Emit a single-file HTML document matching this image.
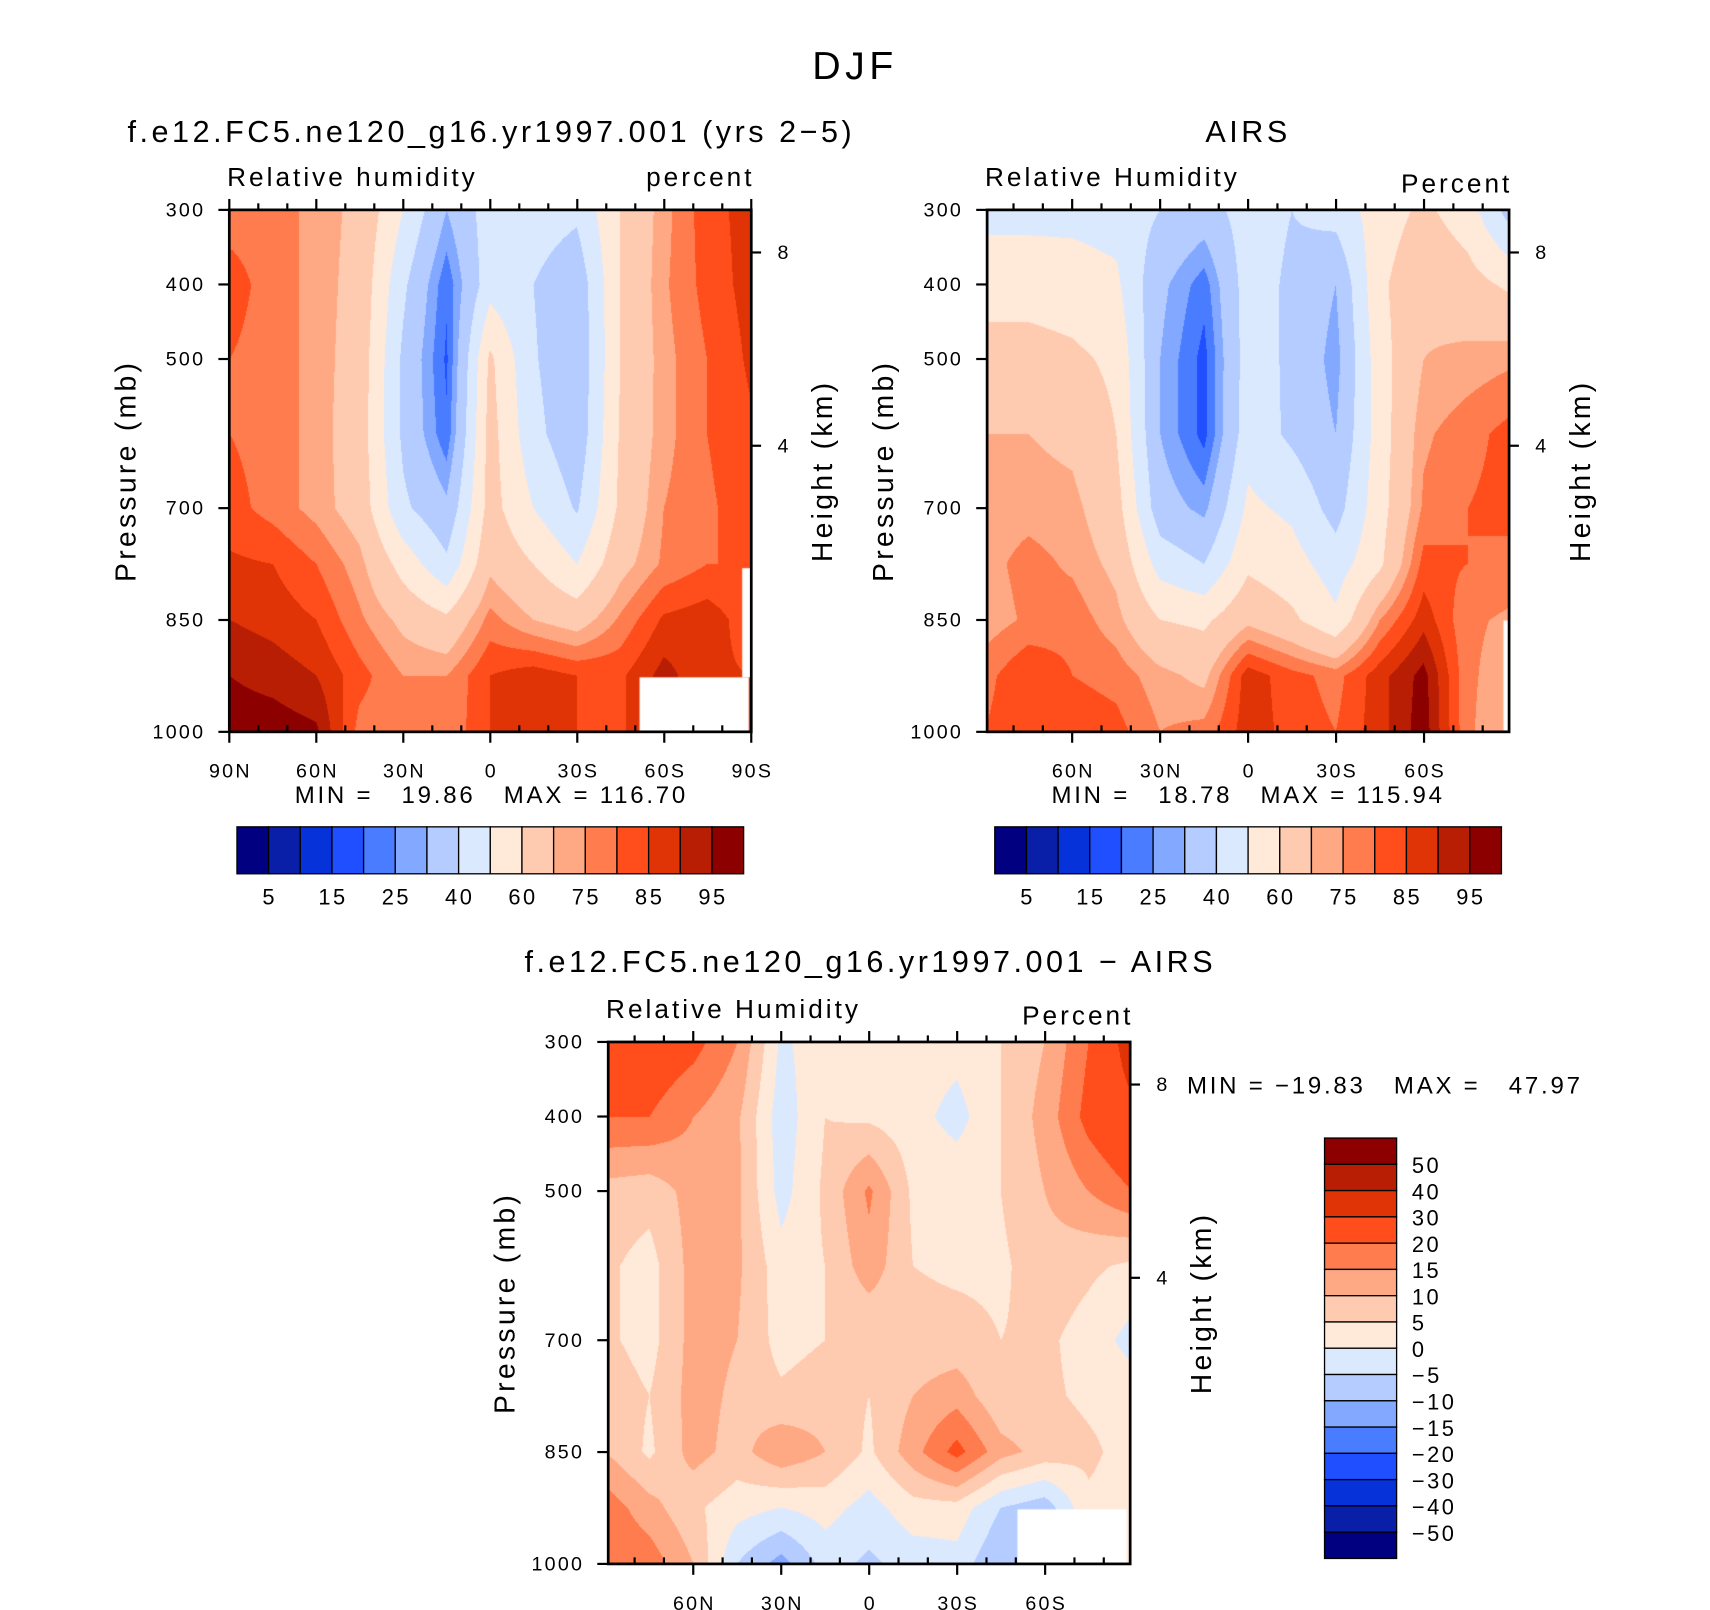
<!DOCTYPE html>
<html><head><meta charset="utf-8">
<style>
html,body{margin:0;padding:0;background:#fff;}
#wrap{position:relative;width:1710px;height:1610px;overflow:hidden;background:#fff;}
canvas{position:absolute;}
svg{position:absolute;left:0;top:0;}
text{font-family:"Liberation Sans",sans-serif;fill:#000;white-space:pre;letter-spacing:0.115em;}
</style></head>
<body>
<div id="wrap">
<canvas id="c1"></canvas>
<canvas id="c2"></canvas>
<canvas id="c3"></canvas>
<svg id="svg" width="1710" height="1610" viewBox="0 0 1566 1474"></svg>
</div>
<script>
// ---- data ----
const pressures = [300,400,500,600,700,775,850,925,1000];
const lats = [90,75,60,45,30,15,0,-15,-30,-45,-60,-75,-90];
const modelRH = [
 [78,78,73,68,50,30,45,45,42,60,73,83,87],
 [82,78,73,67,42,21,46,40,33,60,74,82,87],
 [80,78,73,66,38,19,62,41,32,60,73,80,86],
 [80,78,73,65,38,21,64,43,33,61,73,80,84],
 [82,78,73,66,42,32,64,50,39,62,75,79,83],
 [86,85,80,72,56,42,68,60,50,67,76,80,80],
 [90,88,85,76,68,62,77,70,66,76,86,88,82],
 [95,93,90,82,75,75,85,88,85,84,92,86,85],
 [98,98,96,78,77,76,85,86,85,85,85,85,85]];
const airsRH = [
 [47,47,47,46,40,35,45,40,44,55,62,55,35],
 [56,56,55,52,32,22,45,38,30,58,68,64,58],
 [64,64,62,58,30,18,45,38,27,56,70,72,74],
 [70,70,68,60,30,18,46,38,30,55,74,78,82],
 [72,73,72,64,34,28,52,48,36,56,76,80,82],
 [73,77,74,68,46,40,58,54,45,58,82,80,78],
 [72,76,78,72,60,58,68,62,52,75,88,76,74],
 [78,85,80,78,72,68,88,82,78,88,97,76,72],
 [80,85,84,82,75,77,88,83,80,88,98,76,70]];
const diffRH = [
 [25,25,22,15,-1,3,3,3,2,5,10,20,35],
 [20,20,15,11,-3,5,4,2,-2,5,12,22,28],
 [8,7,12,11,-2,6,16,4,4,5,10,15,20],
 [6,3,12,11,2,5,13,5,4,4,8,6,4],
 [6,3,12,10,3,5,5,7,7,5,6,3,-2],
 [8,5,12,9,6,8,5,10,13,6,6,4,3],
 [10,4,12,8,14,10,4,13,22,12,8,6,3],
 [18,12,6,2,0,2,-2,3,3,-5,-8,4,3],
 [20,18,10,-5,-12,-3,-6,-3,-2,-10,-10,4,3]];
const rhLevels = [5,10,15,20,25,30,40,50,60,70,75,80,85,90,95];
const rhLabels = ["5","15","25","40","60","75","85","95"];
const diffLevels = [-50,-40,-30,-20,-15,-10,-5,0,5,10,15,20,30,40,50];
const diffLabels = ["50","40","30","20","15","10","5","0","\u22125","\u221210","\u221215","\u221220","\u221230","\u221240","\u221250"];
const pTicks = [300,400,500,700,850,1000];
const latTicks = [90,60,30,0,-30,-60,-90];
const colors = ["#000080","#0a1fa8","#0533d9","#1f4fff","#4a7cff","#82a8ff","#b4ccff","#dbe9ff",
 "#ffe9d9","#ffcbb0","#ffa984","#ff7c4e","#ff4e1c","#e03406","#b81e04","#8c0000"];

const K = 1710/1566;
const NS = "http://www.w3.org/2000/svg";
const svg = document.getElementById('svg');
function mk(tag, attrs, parent){
  const e = document.createElementNS(NS, tag);
  for (const k in attrs) e.setAttribute(k, attrs[k]);
  (parent||svg).appendChild(e); return e;
}
function txt(x,y,s,size,anchor,rot){
  const a = {x:x,y:y,'font-size':size,'text-anchor':anchor||'middle'};
  if (rot) a.transform = 'rotate('+rot+' '+x+' '+y+')';
  const t = mk('text', a); t.textContent = s; return t;
}
function hex(c){return [parseInt(c.slice(1,3),16),parseInt(c.slice(3,5),16),parseInt(c.slice(5,7),16)];}
const rgb = colors.map(hex);
function levIdx(v, lev){let i=0; while(i<lev.length && v>=lev[i]) i++; return i;}

function drawField(id, P, data, lev){
  const cv = document.getElementById(id);
  const W = Math.round(P.w*K), H = Math.round(P.h*K);
  cv.width = W; cv.height = H;
  cv.style.left = Math.round(P.x*K)+'px'; cv.style.top = Math.round(P.y*K)+'px';
  const ctx = cv.getContext('2d');
  const img = ctx.createImageData(W,H);
  const nc = lats.length;
  for (let j=0;j<H;j++){
    const p = 300 + (j/(H-1))*700;
    let r=0; while(r<pressures.length-2 && p>pressures[r+1]) r++;
    const fy = (p-pressures[r])/(pressures[r+1]-pressures[r]);
    for (let i=0;i<W;i++){
      const lat = P.lat0 + (P.lat1-P.lat0)*i/(W-1);
      let cf = (90-lat)/180*(nc-1);
      let c = Math.min(nc-2, Math.floor(cf)); const fx = cf-c;
      const v = (1-fy)*((1-fx)*data[r][c]+fx*data[r][c+1]) + fy*((1-fx)*data[r+1][c]+fx*data[r+1][c+1]);
      const col = rgb[levIdx(v, lev)];
      const o = (j*W+i)*4;
      img.data[o]=col[0]; img.data[o+1]=col[1]; img.data[o+2]=col[2]; img.data[o+3]=255;
    }
  }
  ctx.putImageData(img,0,0);
  ctx.fillStyle = '#fff';
  (P.masks||[]).forEach(m=>ctx.fillRect((m[0]-P.x)*K,(m[1]-P.y)*K,m[2]*K,m[3]*K));
}

function yOfP(P,p){return P.y + (p-300)/700*P.h;}
function xOfLat(P,lat){return P.x + (P.lat0-lat)/(P.lat0-P.lat1)*P.w;}

function drawAxes(P){
  const g = mk('g',{});
  
  
  mk('rect',{x:P.x,y:P.y,width:P.w,height:P.h,fill:'none',stroke:'#000','stroke-width':2.5},g);
  pTicks.forEach(p=>{
    const y = yOfP(P,p);
    mk('line',{x1:P.x-10,y1:y,x2:P.x,y2:y,stroke:'#000','stroke-width':2},g);
    const t = txt(P.x-22,y+6,String(p),18,'end');
    
    
  });
  for (let lat=90; lat>=-90; lat-=10){
    if (lat>P.lat0+0.5 || lat<P.lat1-0.5) continue;
    const x = xOfLat(P,lat);
    const major = lat%30===0;
    mk('line',{x1:x,y1:P.y+P.h,x2:x,y2:P.y+P.h+(major?10:-6),stroke:'#000','stroke-width':2},g);
    mk('line',{x1:x,y1:P.y,x2:x,y2:P.y-(major?10:6),stroke:'#000','stroke-width':2},g);
  }
  latTicks.forEach(lat=>{
    if (lat>P.lat0+0.5 || lat<P.lat1-0.5) return;
    const s = lat===0?'0':(Math.abs(lat)+(lat>0?'N':'S'));
    const t = txt(xOfLat(P,lat)+1,P.y+P.h+42,s,18,'middle');
    
    
  });
  [[8,P.h8],[4,P.h4]].forEach(h=>{
    mk('line',{x1:P.x+P.w,y1:h[1],x2:P.x+P.w+9,y2:h[1],stroke:'#000','stroke-width':2},g);
    const t = txt(P.x+P.w+24,h[1]+6,String(h[0]),18,'start');
    
    
  });
  const yl = txt(P.x-86,P.y+P.h/2,'Pressure (mb)',26,'middle',-90);
  
  
  const hl = txt(P.x+P.w+74,P.y+P.h/2,'Height (km)',26,'middle',-90);
  
  
  const l1 = txt(P.x-2,P.y-22,P.left,24,'start');
  
  
  const l2 = txt(P.x+P.w+3,P.y-P.unitOff,P.unit,24,'end');
  
  
  const tt = txt(P.tx,P.ty,P.title,28,'middle');
  
  
}

function hColorbar(x,y,w,h,labels,name){
  const g = mk('g',{});
  
  
  const bw = w/colors.length;
  colors.forEach((c,i)=>{
    mk('rect',{x:x+i*bw,y:y,width:bw,height:h,fill:c,stroke:'#000','stroke-width':1.2},g);
  });
  labels.forEach((s,k)=>{
    const t = txt(x+(2*k+1)*bw+1,y+h+28,s,20,'middle');
    
    
  });
}
function vColorbar(x,y,w,h,labels,name){
  const g = mk('g',{});
  
  
  const bh = h/colors.length;
  colors.slice().reverse().forEach((c,i)=>{
    mk('rect',{x:x,y:y+i*bh,width:w,height:bh,fill:c,stroke:'#000','stroke-width':1.2},g);
  });
  labels.forEach((s,k)=>{
    const t = txt(x+w+14,y+(k+1)*bh+8,s,20,'start');
    
    
  });
}

const P1 = {name:'model',x:210,y:192,w:478,h:478,lat0:90,lat1:-90,h8:231,h4:408,
  left:'Relative humidity',unit:'percent',unitOff:22,title:'f.e12.FC5.ne120_g16.yr1997.001 (yrs 2\u22125)',tx:450,ty:130,
  masks:[[586,620,100,50],[680,520,8,100]]};
const P2 = {name:'airs',x:904,y:192,w:478,h:478,lat0:89,lat1:-89,h8:231,h4:408,
  left:'Relative Humidity',unit:'Percent',unitOff:16,title:'AIRS',tx:1143,ty:130,
  masks:[[1377,568,5,102]]};
const P3 = {name:'difference',x:557,y:954,w:478,h:478,lat0:89,lat1:-89,h8:993,h4:1170,
  left:'Relative Humidity',unit:'Percent',unitOff:16,title:'f.e12.FC5.ne120_g16.yr1997.001 \u2212 AIRS',tx:797,ty:890,
  masks:[[932,1382,100,50]]};

drawField('c1',P1,modelRH,rhLevels);
drawField('c2',P2,airsRH,rhLevels);
drawField('c3',P3,diffRH,diffLevels);
[P1,P2,P3].forEach(drawAxes);

const main = txt(783,72,'DJF',36,'middle');


const m1 = txt(450,735,'MIN =   19.86   MAX = 116.70',22,'middle');


const m2 = txt(1143,735,'MIN =   18.78   MAX = 115.94',22,'middle');


const m3 = txt(1087,1001,'MIN = \u221219.83   MAX =   47.97',22,'start');



hColorbar(217,757,464,43,rhLabels,'model-colorbar');
hColorbar(911,757,464,43,rhLabels,'airs-colorbar');
vColorbar(1213,1042,66,385,diffLabels,'difference-colorbar');
</script>
</body></html>
